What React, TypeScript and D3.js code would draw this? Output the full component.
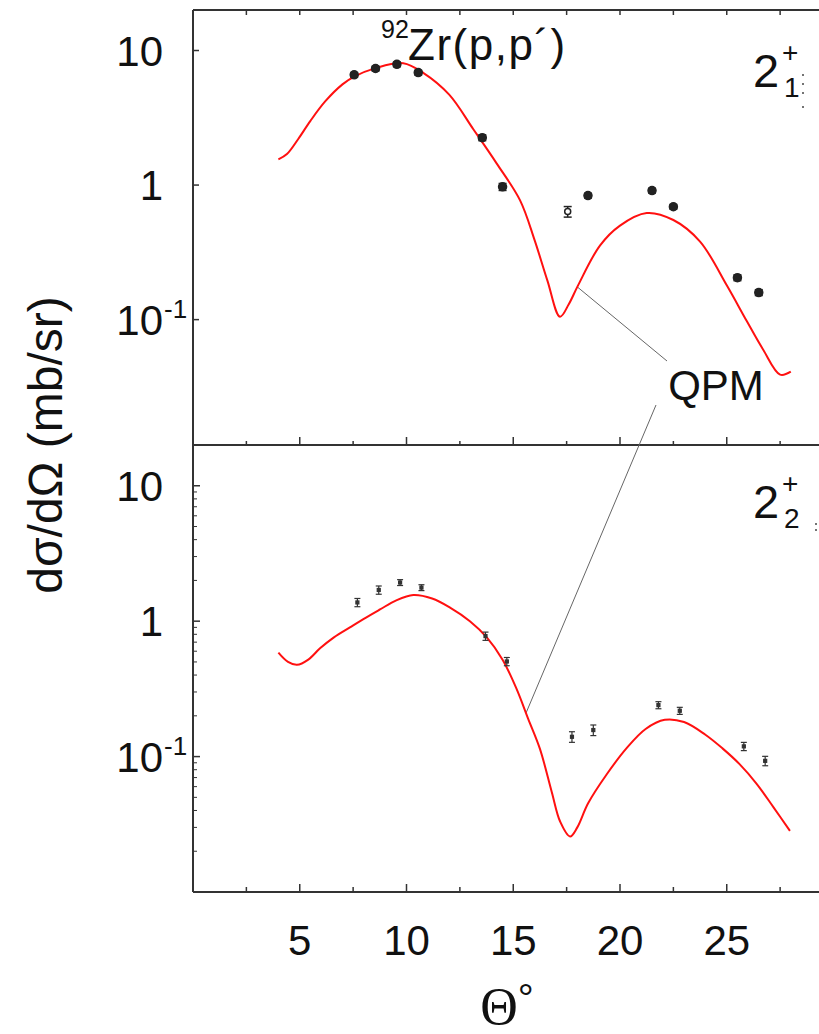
import React, { useEffect, useRef } from 'react';
import * as d3 from 'd3';

// measured points, upper panel (2+ 1)
const topAngles = [7.55, 8.55, 9.55, 10.55, 13.55, 14.5, 17.55, 18.5, 21.5, 22.5, 25.5, 26.5];
const topValues = [6.6, 7.35, 7.9, 6.85, 2.25, 0.97, 0.635, 0.835, 0.91, 0.69, 0.205, 0.159];
const topErrors = [0.04, 0.04, 0.04, 0.04, 0.05, 0.06, 0.09, 0.04, 0.04, 0.04, 0.05, 0.05];
const topOpen = [false, false, false, false, false, false, true, false, false, false, false, false];

// QPM curve, upper panel
const topCurveAngles = [4.0, 4.4, 4.93, 5.5, 6.2, 7.0, 7.55, 8.55, 9.85, 10.8, 12.0, 13.13, 14.22, 15.32, 16.0, 16.6, 17.19, 17.6, 18.03, 19.06, 20.0, 21.25, 22.5, 23.75, 25.0, 25.93, 26.7, 27.5, 28.0];
const topCurveValues = [1.55, 1.7, 2.2, 3.0, 4.2, 5.6, 6.4, 7.4, 8.05, 6.8, 4.7, 2.6, 1.45, 0.77, 0.39, 0.195, 0.105, 0.13, 0.179, 0.355, 0.5, 0.62, 0.55, 0.38, 0.18, 0.098, 0.06, 0.039, 0.041];

// measured points, lower panel (2+ 2)
const botAngles = [7.7, 8.7, 9.7, 10.7, 13.7, 14.7, 17.75, 18.75, 21.8, 22.8, 25.8, 26.8];
const botValues = [1.375, 1.7, 1.93, 1.77, 0.776, 0.504, 0.14, 0.157, 0.24, 0.218, 0.119, 0.093];
const botErrors = [0.07, 0.07, 0.05, 0.05, 0.07, 0.07, 0.09, 0.09, 0.06, 0.06, 0.07, 0.08];

// QPM curve, lower panel
const botCurveAngles = [4.0, 4.45, 4.87, 5.4, 5.95, 6.6, 7.35, 8.0, 8.76, 9.5, 10.32, 11.2, 12.04, 12.97, 13.76, 14.5, 15.16, 15.7, 16.25, 16.8, 17.2, 17.66, 18.0, 18.5, 19.38, 20.3, 21.2, 22.1, 23.0, 24.0, 24.8, 25.6, 26.4, 27.2, 27.96];
const botCurveValues = [0.585, 0.5, 0.476, 0.52, 0.63, 0.76, 0.9, 1.04, 1.22, 1.42, 1.56, 1.47, 1.26, 1.0, 0.76, 0.52, 0.315, 0.19, 0.114, 0.055, 0.033, 0.0257, 0.03, 0.045, 0.074, 0.115, 0.16, 0.187, 0.18, 0.145, 0.115, 0.088, 0.063, 0.042, 0.0283];

const xTicks = [5, 10, 15, 20, 25];
const yTicks = [10, 1, 0.1];

const FONT = 'Liberation Sans, Arial, sans-serif';

export default function App() {
  const ref = useRef<SVGSVGElement>(null);

  useEffect(() => {
    const svg = d3.select(ref.current);
    svg.selectAll('*').remove();

    const left = 193;
    const x = d3.scaleLinear().domain([0, 30]).range([left, left + 30 * 21.35]);
    const yTop = d3.scaleLog().domain([0.0117, 20]).range([445, 10]);
    const yBot = d3.scaleLog().domain([0.01, 20]).range([892, 445]);
    const xMax = x(30);

    const axis = svg.append('g').attr('stroke', '#333').attr('stroke-width', 2).attr('fill', 'none');
    // frame
    axis.append('line').attr('x1', left).attr('x2', left).attr('y1', yTop.range()[1]).attr('y2', yBot.range()[0]);
    [10, 445, 892].forEach((yy) => {
      axis.append('line').attr('x1', left).attr('x2', xMax).attr('y1', yy).attr('y2', yy);
    });

    // x ticks
    const xAll = d3.range(2.5, 30, 2.5);
    xAll.forEach((t) => {
      const major = t % 5 === 0;
      axis.append('line').attr('x1', x(t)).attr('x2', x(t)).attr('y1', 10).attr('y2', 15).attr('stroke-width', 1.5);
      axis.append('line').attr('x1', x(t)).attr('x2', x(t)).attr('y1', 445).attr('y2', major ? 437 : 441).attr('stroke-width', 1.5);
      axis.append('line').attr('x1', x(t)).attr('x2', x(t)).attr('y1', 892).attr('y2', major ? 884 : 887).attr('stroke-width', 1.5);
    });

    // y ticks
    yTicks.forEach((v) => {
      axis.append('line').attr('x1', left).attr('x2', left + 6).attr('y1', yTop(v)).attr('y2', yTop(v)).attr('stroke-width', 1.5);
      axis.append('line').attr('x1', left).attr('x2', left + 7).attr('y1', yBot(v)).attr('y2', yBot(v)).attr('stroke-width', 1.5);
    });
    [0.01, 0.1, 1, 10].forEach((dec) => {
      d3.range(2, 10).forEach((m) => {
        const v = dec * m;
        if (v > 20) return;
        axis.append('line').attr('x1', left).attr('x2', left + 4).attr('y1', yBot(v)).attr('y2', yBot(v)).attr('stroke-width', 1);
      });
    });

    // tick labels
    const txt = svg.append('g').attr('font-family', FONT).attr('fill', '#111');
    xTicks.forEach((t) => {
      txt.append('text').attr('x', x(t)).attr('y', 955).attr('text-anchor', 'middle').attr('font-size', 42).text(t);
    });
    [yTop, yBot].forEach((ys) => {
      yTicks.forEach((v) => {
        const yy = ys(v) + 15;
        if (v >= 1) {
          txt.append('text').attr('x', 163).attr('y', yy).attr('text-anchor', 'end').attr('font-size', 42).text(v);
        } else {
          txt.append('text').attr('x', 163).attr('y', yy).attr('text-anchor', 'end').attr('font-size', 42).text('10');
          txt.append('text').attr('x', 164).attr('y', yy - 17).attr('font-size', 26).text('-1');
        }
      });
    });

    // axis titles
    txt.append('text').attr('transform', 'translate(62,445) rotate(-90)').attr('text-anchor', 'middle')
      .attr('font-size', 48).text('dσ/dΩ (mb/sr)');
    const xt = txt.append('text').attr('x', 507).attr('y', 1024).attr('text-anchor', 'middle');
    xt.append('tspan').attr('font-family', 'Liberation Serif, Times New Roman, serif').attr('font-size', 52).text('Θ');
    xt.append('tspan').attr('font-size', 40).attr('dy', -12).text('°');

    // reaction title
    txt.append('text').attr('x', 381).attr('y', 38).attr('font-size', 25).text('92');
    txt.append('text').attr('x', 408).attr('y', 60).attr('font-size', 44)
      .attr('letter-spacing', 1.5).text('Zr(p,p´)');

    // state labels
    const stateLabel = (yBase: number, sub: string) => {
      txt.append('text').attr('x', 753).attr('y', yBase).attr('font-size', 47).text('2');
      txt.append('text').attr('x', 782).attr('y', yBase - 25).attr('font-size', 28).text('+');
      txt.append('text').attr('x', 784).attr('y', yBase + 10).attr('font-size', 28).text(sub);
    };
    stateLabel(87, '1');
    stateLabel(518, '2');
    [75, 84, 93, 107].forEach((yy) => {
      svg.append('circle').attr('cx', 803).attr('cy', yy).attr('r', 1).attr('fill', '#444');
    });
    [524, 530].forEach((yy) => {
      svg.append('circle').attr('cx', 816).attr('cy', yy).attr('r', 1).attr('fill', '#444');
    });

    // QPM label with leaders
    txt.append('text').attr('x', 716).attr('y', 400).attr('text-anchor', 'middle').attr('font-size', 42).text('QPM');
    const leaders = svg.append('g').attr('stroke', '#666').attr('stroke-width', 1);
    leaders.append('line').attr('x1', x(18.0)).attr('y1', yTop(0.175)).attr('x2', 667).attr('y2', 361);
    leaders.append('line').attr('x1', x(15.6)).attr('y1', yBot(0.21)).attr('x2', 656).attr('y2', 405);

    // curves
    const topLine = d3.line<number>()
      .x((d, i) => x(topCurveAngles[i]))
      .y((d) => yTop(d))
      .curve(d3.curveCatmullRom.alpha(0.5));
    const botLine = d3.line<number>()
      .x((d, i) => x(botCurveAngles[i]))
      .y((d) => yBot(d))
      .curve(d3.curveCatmullRom.alpha(0.5));
    svg.append('path').attr('d', topLine(topCurveValues)).attr('fill', 'none').attr('stroke', '#ff1010').attr('stroke-width', 2);
    svg.append('path').attr('d', botLine(botCurveValues)).attr('fill', 'none').attr('stroke', '#ff1010').attr('stroke-width', 2);

    // top data
    const tp = svg.append('g').attr('stroke', '#222').attr('stroke-width', 1.5);
    topValues.forEach((v, i) => {
      const cx = x(topAngles[i]);
      const y0 = yTop(v * (1 + topErrors[i]));
      const y1 = yTop(v * (1 - topErrors[i]));
      tp.append('line').attr('x1', cx).attr('x2', cx).attr('y1', y0).attr('y2', y1);
      tp.append('line').attr('x1', cx - 4).attr('x2', cx + 4).attr('y1', y0).attr('y2', y0);
      tp.append('line').attr('x1', cx - 4).attr('x2', cx + 4).attr('y1', y1).attr('y2', y1);
      tp.append('circle').attr('cx', cx).attr('cy', yTop(v)).attr('r', topOpen[i] ? 3 : 4)
        .attr('fill', topOpen[i] ? 'white' : '#222');
    });

    // bottom data
    const bp = svg.append('g').attr('stroke', '#333').attr('stroke-width', 1.2);
    botValues.forEach((v, i) => {
      const cx = x(botAngles[i]);
      const y0 = yBot(v * (1 + botErrors[i]));
      const y1 = yBot(v * (1 - botErrors[i]));
      bp.append('line').attr('x1', cx).attr('x2', cx).attr('y1', y0).attr('y2', y1);
      bp.append('line').attr('x1', cx - 3).attr('x2', cx + 3).attr('y1', y0).attr('y2', y0);
      bp.append('line').attr('x1', cx - 3).attr('x2', cx + 3).attr('y1', y1).attr('y2', y1);
      bp.append('rect').attr('x', cx - 1.5).attr('y', yBot(v) - 1.5).attr('width', 3).attr('height', 3).attr('fill', '#333');
    });
  }, []);

  return (
    <svg ref={ref} width={819} height={1034}
      style={{ position: 'absolute', left: 0, top: 0, background: 'white' }} />
  );
}
